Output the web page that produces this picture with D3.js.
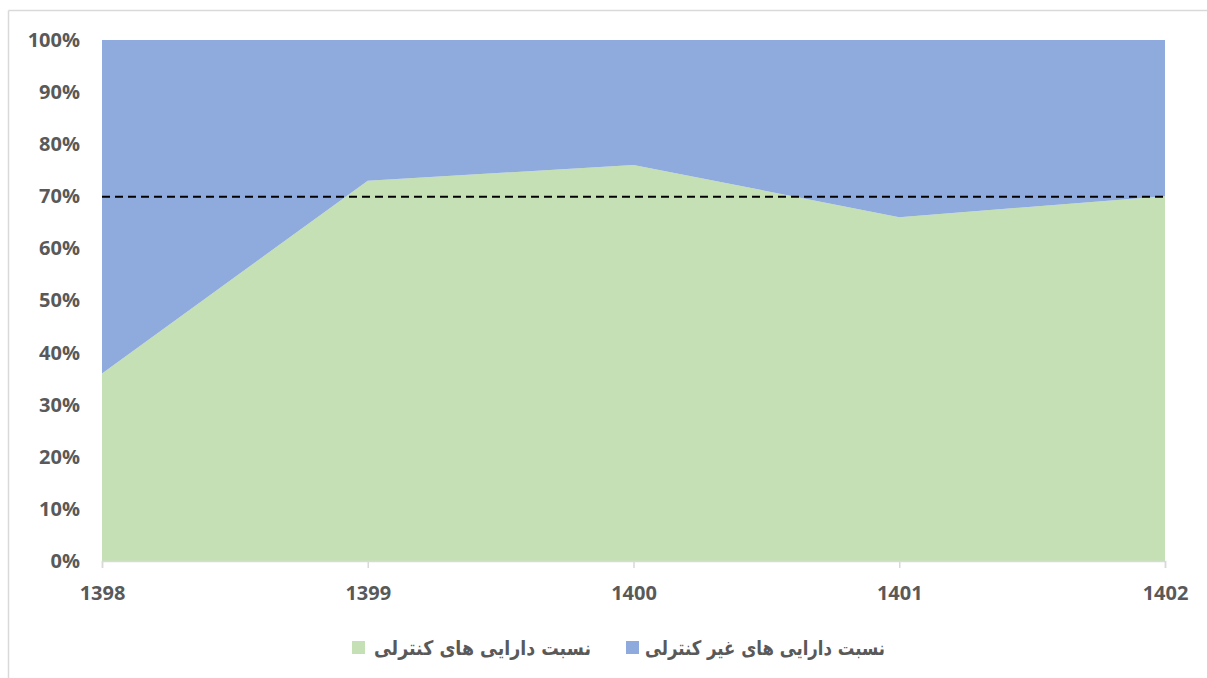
<!DOCTYPE html>
<html>
<head>
<meta charset="utf-8">
<script src="https://cdn.jsdelivr.net/npm/d3@7"></script>
<style>
  body { margin: 0; background: #fff; }
  svg { display: block; }
  .tick-label { font-family: "Open Sans", sans-serif; font-weight: 700; font-size: 20px; fill: #595959; }
  .legend-label { font-family: "DejaVu Sans", sans-serif; font-weight: 700; font-size: 20px; fill: #595959; }
</style>
</head>
<body>
<div id="chart"></div>
<script>
const years = ['1398', '1399', '1400', '1401', '1402'];
const controlShare = [36, 73, 76, 66, 70];
const nonControlShare = [64, 27, 24, 34, 30];
const yTicks = [0, 10, 20, 30, 40, 50, 60, 70, 80, 90, 100];
const thresholdLine = 70;
const seriesNames = ['نسبت دارایی های کنترلی', 'نسبت دارایی های غیر کنترلی'];
const seriesColors = ['#c5e0b4', '#8faadc'];

const W = 1207, H = 678;
const M = { top: 40, right: 42, bottom: 117, left: 102 };

const svg = d3.select('#chart').append('svg')
  .attr('width', W)
  .attr('height', H);

// outer frame (only top and left visible in the crop)
svg.append('line')
  .attr('x1', 8.5).attr('x2', W).attr('y1', 10.5).attr('y2', 10.5)
  .attr('stroke', '#d9d9d9').attr('stroke-width', 1.5);
svg.append('line')
  .attr('x1', 8.5).attr('x2', 8.5).attr('y1', 10.5).attr('y2', H)
  .attr('stroke', '#d9d9d9').attr('stroke-width', 1.5);

const x = d3.scalePoint()
  .domain(years)
  .range([M.left, W - M.right]);

const y = d3.scaleLinear()
  .domain([0, 100])
  .range([H - M.bottom, M.top]);

const rows = years.map((yr, i) => ({
  year: yr,
  control: controlShare[i],
  nonControl: nonControlShare[i],
}));

const stack = d3.stack().keys(['control', 'nonControl']);
const layers = stack(rows);

const area = d3.area()
  .x((d) => x(d.data.year))
  .y0((d) => y(d[0]))
  .y1((d) => y(d[1]));

svg.append('g')
  .selectAll('path')
  .data(layers)
  .join('path')
  .attr('d', area)
  .attr('fill', (d, i) => seriesColors[i]);

// dashed 70% reference
svg.append('line')
  .attr('x1', x(years[0]))
  .attr('x2', x(years[years.length - 1]))
  .attr('y1', y(thresholdLine) + 0.5)
  .attr('y2', y(thresholdLine) + 0.5)
  .attr('stroke', '#000')
  .attr('stroke-width', 2)
  .attr('stroke-dasharray', '8,5');

// x axis
const xAxis = svg.append('g')
  .attr('transform', `translate(0,${H - M.bottom})`)
  .call(d3.axisBottom(x).tickSize(7).tickPadding(18));
xAxis.select('.domain').attr('stroke', '#d9d9d9').attr('stroke-width', 1.5);
xAxis.selectAll('.tick line').attr('stroke', '#d9d9d9').attr('stroke-width', 1.5);
xAxis.selectAll('.tick text').attr('class', 'tick-label');

// y axis labels only
const yAxis = svg.append('g')
  .attr('transform', `translate(${M.left},0)`)
  .call(d3.axisLeft(y).tickValues(yTicks).tickFormat((d) => d + '%').tickSize(0).tickPadding(22));
yAxis.select('.domain').remove();
yAxis.selectAll('.tick text').attr('class', 'tick-label');

// legend: square on the left, rtl text to its right
const legendItems = [
  { name: seriesNames[0], color: seriesColors[0], sx: 352, tx: 591, len: 217 },
  { name: seriesNames[1], color: seriesColors[1], sx: 626, tx: 885, len: 240 },
];
const legend = svg.append('g');
legendItems.forEach((it) => {
  legend.append('rect')
    .attr('x', it.sx).attr('y', 641)
    .attr('width', 13).attr('height', 13)
    .attr('fill', it.color);
  legend.append('text')
    .attr('class', 'legend-label')
    .attr('x', it.tx).attr('y', 655)
    .style('direction', 'rtl')
    .attr('text-anchor', 'start')
    .attr('textLength', it.len)
    .attr('lengthAdjust', 'spacingAndGlyphs')
    .text(it.name);
});
</script>
</body>
</html>
